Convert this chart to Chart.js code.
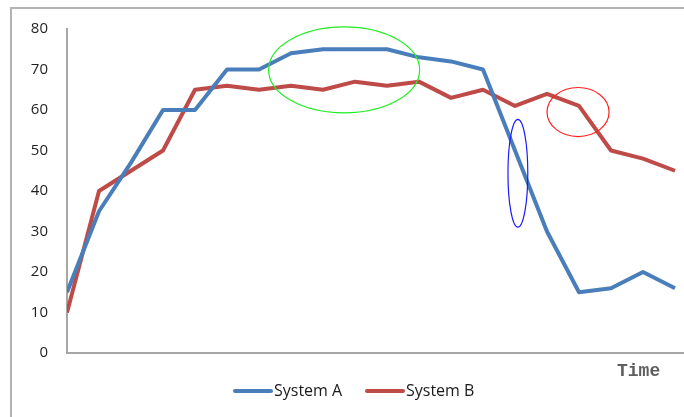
<!DOCTYPE html>
<html>
<head>
<meta charset="utf-8">
<script src="https://cdn.jsdelivr.net/npm/chart.js@4.4.1/dist/chart.umd.min.js"></script>
<style>
  html, body { margin: 0; padding: 0; background: #ffffff; }
  #wrap { position: relative; width: 684px; height: 417px; overflow: hidden; }
  #frame { position: absolute; left: 10px; top: 7px; width: 700px; height: 420px;
           border-left: 2px solid #b3b3b3; border-top: 2px solid #b3b3b3; box-sizing: border-box; }
  canvas { position: absolute; left: 0; top: 0; }
</style>
</head>
<body>
<div id="wrap">
  <div id="frame"></div>
  <canvas id="chart" width="684" height="417"></canvas>
</div>
<script>
// Time steps along the horizontal axis
const timeSteps = [1, 2, 3, 4, 5, 6, 7, 8, 9, 10, 11, 12, 13, 14, 15, 16, 17, 18, 19, 20];

// Measured values per system
const systemA = [15, 35, 47, 60, 60, 70, 70, 74, 75, 75, 75, 73, 72, 70, 50, 30, 15, 16, 20, 16];
const systemB = [10, 40, 45, 50, 65, 66, 65, 66, 65, 67, 66, 67, 63, 65, 61, 64, 61, 50, 48, 45];

// Value axis ticks
const yTicks = [0, 10, 20, 30, 40, 50, 60, 70, 80];

// Highlighted regions, in data units (step index, value)
const highlights = [
  { cx: 8.66, cy: 69.9, rx: 2.36, ry: 10.6, color: '#22ee22' },
  { cx: 14.09, cy: 44.4, rx: 0.31, ry: 13.3, color: '#1a1aff' },
  { cx: 15.97, cy: 59.5, rx: 0.97, ry: 6.05, color: '#ff2020' }
];

const toPoints = arr => arr.map((v, i) => ({ x: i, y: v }));

const highlightPlugin = {
  id: 'highlights',
  afterDatasetsDraw(chart) {
    const { ctx, scales: { x, y } } = chart;
    ctx.save();
    highlights.forEach(h => {
      const cx = x.getPixelForValue(h.cx);
      const cy = y.getPixelForValue(h.cy);
      const rx = Math.abs(x.getPixelForValue(h.cx + h.rx) - cx);
      const ry = Math.abs(y.getPixelForValue(h.cy + h.ry) - cy);
      ctx.beginPath();
      ctx.ellipse(cx, cy, rx, ry, 0, 0, Math.PI * 2);
      ctx.strokeStyle = h.color;
      ctx.lineWidth = 1.2;
      ctx.stroke();
    });
    ctx.restore();
  }
};

const legendPlugin = {
  id: 'bottomLegend',
  afterDraw(chart) {
    const { ctx } = chart;
    ctx.save();
    const ly = 391;
    let lx = 233;
    ctx.font = '16px "Open Sans", sans-serif';
    ctx.textBaseline = 'middle';
    chart.data.datasets.forEach(ds => {
      ctx.beginPath();
      ctx.moveTo(lx + 2, ly);
      ctx.lineTo(lx + 38, ly);
      ctx.strokeStyle = ds.borderColor;
      ctx.lineWidth = 4;
      ctx.lineCap = 'round';
      ctx.stroke();
      ctx.fillStyle = '#1a1a1a';
      ctx.fillText(ds.label, lx + 41, ly);
      lx += 132;
    });
    // axis caption
    ctx.font = 'bold 18px "Liberation Mono", monospace';
    ctx.fillStyle = '#5e5e5e';
    ctx.fillText('Time', 617, 371);
    ctx.restore();
  }
};

new Chart(document.getElementById('chart'), {
  type: 'line',
  data: {
    labels: timeSteps,
    datasets: [
      {
        label: 'System A',
        data: toPoints(systemA),
        borderColor: '#4a7ebb',
        borderWidth: 4,
        borderJoinStyle: 'round',
        pointRadius: 0,
        tension: 0
      },
      {
        label: 'System B',
        data: toPoints(systemB),
        borderColor: '#be4b48',
        borderWidth: 4,
        borderJoinStyle: 'round',
        pointRadius: 0,
        tension: 0
      }
    ]
  },
  options: {
    responsive: false,
    animation: false,
    layout: { padding: { left: 0, top: 29, right: 1, bottom: 64 } },
    plugins: { legend: { display: false }, tooltip: { enabled: false } },
    scales: {
      x: {
        type: 'linear',
        min: 0,
        max: 19.25,
        ticks: { display: false },
        grid: { display: false, drawTicks: false },
        border: { display: true, color: '#a6a6a6', width: 2 },
        afterFit: s => { s.height = 0; }
      },
      y: {
        min: 0,
        max: 80,
        afterBuildTicks: s => { s.ticks = yTicks.map(v => ({ value: v })); },
        ticks: {
          padding: 19,
          color: '#1f1f1f',
          font: { family: '"Open Sans", sans-serif', size: 15 }
        },
        grid: { display: false, drawTicks: false },
        border: { display: true, color: '#a6a6a6', width: 2 },
        afterFit: s => { s.width = 67; }
      }
    }
  },
  plugins: [highlightPlugin, legendPlugin]
});
</script>
</body>
</html>
